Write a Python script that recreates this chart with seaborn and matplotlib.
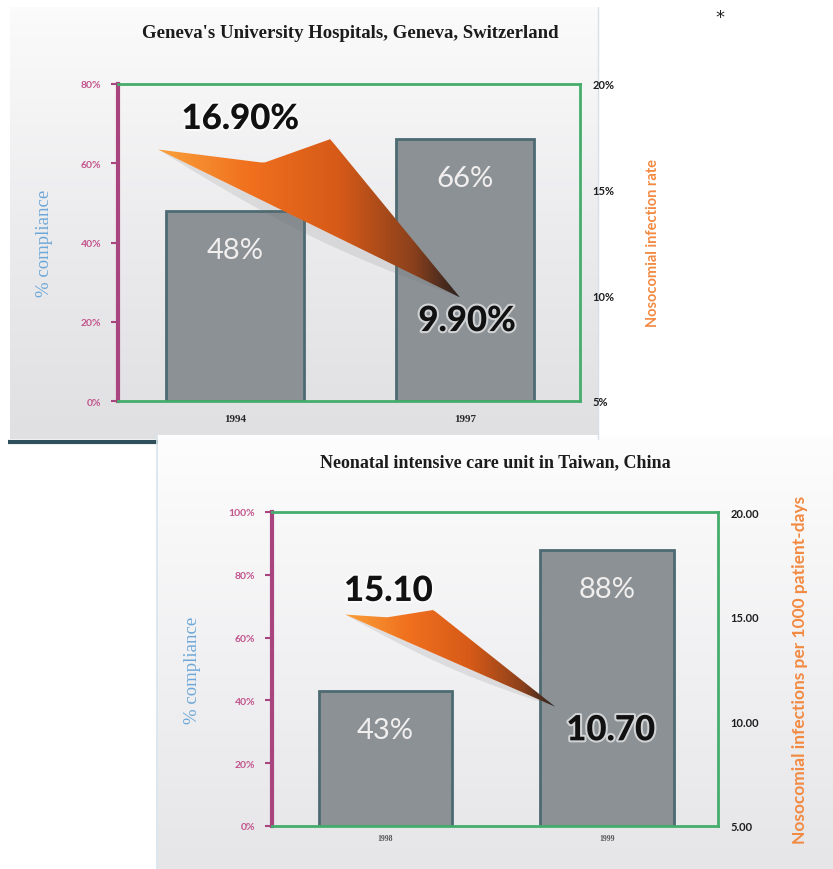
"""Hand hygiene compliance vs. infection rates: two stacked bar panels."""
import numpy as np
import matplotlib.pyplot as plt
import matplotlib.patheffects as pe
from matplotlib.patches import Polygon
from matplotlib.colors import LinearSegmentedColormap
import seaborn as sns

# data
geneva_years = ["1994", "1997"]
geneva_compliance = [48, 66]
geneva_infection = [16.9, 9.9]
geneva_infection_labels = ["16.90%", "9.90%"]

taiwan_years = ["1998", "1999"]
taiwan_compliance = [43, 88]
taiwan_infection = [15.1, 10.7]
taiwan_infection_labels = ["15.10", "10.70"]

geneva_left_ticks = [0, 20, 40, 60, 80]
taiwan_left_ticks = [0, 20, 40, 60, 80, 100]
right_ticks = [5, 10, 15, 20]

sns.set_style("white")
plt.rcParams["font.family"] = ["Lato", "DejaVu Sans"]

W, H = 833, 870
fig = plt.figure(figsize=(W / 100, H / 100), dpi=100)


def px_box(left, top, right, bottom):
    return [left / W, 1 - bottom / H, (right - left) / W, (bottom - top) / H]


# backdrop panels
bg = fig.add_axes([0, 0, 1, 1], zorder=-10)
bg.axis("off")
panel_cmap = LinearSegmentedColormap.from_list("panel", ["#fbfbfb", "#ececee", "#e0e0e2"])
grad = np.linspace(0, 1, 100)[:, None]
bg.imshow(grad, extent=[10, 598, 440, 8], cmap=panel_cmap, aspect="auto", origin="upper")
bg.plot([598, 598], [8, 440], color="#d7dfe8", lw=1)
bg.plot([8, 158], [443, 443], color="#2f4f5a", lw=3, solid_capstyle="butt")
panel2_cmap = LinearSegmentedColormap.from_list("panel2", ["#fdfdfd", "#f1f1f3", "#e6e6e8"])
bg.imshow(grad, extent=[157, 833, 870, 436], cmap=panel2_cmap, aspect="auto", origin="upper")
bg.plot([157, 157], [436, 870], color="#d8e4ee", lw=1.2)
bg.set_xlim(0, W)
bg.set_ylim(H, 0)
bg.text(720, 18, "*", fontsize=13, color="#222222", ha="center", va="center",
        family="DejaVu Sans")

wedge_cmap = LinearSegmentedColormap.from_list(
    "wedge", [(0, "#f9a03a"), (0.3, "#f0701e"), (0.6, "#d65a18"), (0.85, "#8a401c"), (1, "#2b2220")])

BAR_COLOR = "#8b9195"
BAR_EDGE = "#4d6a72"
GREEN = "#45ad6c"
MAGENTA = "#a8457f"
glow = [pe.withStroke(linewidth=3, foreground="white", alpha=0.6)]


def draw_wedge(ax2, x0, x1, v0, v1, up_t, up_drop):
    t = np.linspace(0, 1, 80)
    xs = x0 + (x1 - x0) * t
    drop = v0 - v1
    upper = v0 - drop * np.interp(t, up_t, up_drop)
    lower = v0 - drop * t
    shadow = lower - drop * 0.08 * np.sin(np.pi * t)
    ax2.fill(np.r_[xs, xs[::-1]], np.r_[lower, shadow[::-1]],
             color="#6f6f6f", alpha=0.15, lw=0, zorder=2)
    poly = np.column_stack([np.r_[xs, xs[::-1]], np.r_[upper, lower[::-1]]])
    patch = Polygon(poly, closed=True, fc="none", ec="none")
    ax2.add_patch(patch)
    img = np.tile(np.linspace(0, 1, 200), (20, 1))
    im = ax2.imshow(img, extent=[x0, x1, v1, upper.max()], origin="lower",
                    aspect="auto", cmap=wedge_cmap, zorder=3)
    im.set_clip_path(patch)


def draw_panel(box, years, compliance, infection, inf_labels, left_ticks, right_fmt,
               wedge_x, up_t, up_drop, label_offsets, right_label, right_size,
               right_pad, xtick_size, xtick_color, xtick_pad):
    ax = fig.add_axes(box)
    ax.set_facecolor("none")
    sns.barplot(x=years, y=compliance, ax=ax, color=BAR_COLOR, saturation=1,
                width=0.6, edgecolor=BAR_EDGE, linewidth=2)
    ax.set_ylim(0, left_ticks[-1])
    ax.set_yticks(left_ticks)
    ax.set_yticklabels([f"{v}%" for v in left_ticks])
    for s in ["top", "bottom", "right"]:
        ax.spines[s].set_color(GREEN)
        ax.spines[s].set_linewidth(2)
    ax.spines["left"].set_color(MAGENTA)
    ax.spines["left"].set_linewidth(3)
    ax.tick_params(axis="y", colors=MAGENTA, length=5, width=1.5, labelsize=7.5,
                   labelcolor="#c2548c", pad=7)
    for lab in ax.get_yticklabels():
        lab.set_fontweight("bold")
    ax.tick_params(axis="x", length=0, labelsize=xtick_size, labelcolor=xtick_color,
                   pad=xtick_pad)
    for lab in ax.get_xticklabels():
        lab.set_fontweight("bold")
        lab.set_family("Liberation Serif")
    ax.set_xlabel("")
    ax.set_ylabel("% compliance", family="Liberation Serif", fontsize=13.5,
                  color="#6ea8d8", labelpad=20)
    for i, v in enumerate(compliance):
        ax.annotate(f"{v}%", (i, v), xytext=(0, -28), textcoords="offset points",
                    ha="center", va="center", fontsize=21, color="#f1eeee")

    ax2 = ax.twinx()
    ax2.set_facecolor("none")
    for s in ax2.spines.values():
        s.set_visible(False)
    draw_wedge(ax2, wedge_x[0], wedge_x[1], infection[0], infection[1], up_t, up_drop)
    ax2.set_ylim(right_ticks[0], right_ticks[-1])
    ax2.set_yticks(right_ticks)
    ax2.set_yticklabels([right_fmt.format(v) for v in right_ticks])
    ax2.tick_params(axis="y", length=0, labelsize=8, labelcolor="#1e1e1e", pad=9)
    for lab in ax2.get_yticklabels():
        lab.set_fontweight("bold")
    ax2.set_ylabel(right_label, rotation=90, fontsize=right_size, color="#f28a42",
                   fontweight="bold", labelpad=right_pad)
    for i, (v, txt) in enumerate(zip(infection, inf_labels)):
        ax2.annotate(txt, (wedge_x[i], v), xytext=label_offsets[i], textcoords="offset points",
                     ha="center", va="center", fontsize=25, fontweight="black",
                     color="#111111", path_effects=glow, zorder=5)
    ax.set_xlim(-0.51, 1.5)
    return ax, ax2


draw_panel(px_box(118, 85, 580, 402), geneva_years, geneva_compliance, geneva_infection,
           geneva_infection_labels, geneva_left_ticks, "{}%",
           (-0.335, 0.978), [0, 0.35, 0.57, 1], [0, 0.09, -0.07, 1],
           [(59, 22), (5, -17)], "Nosocomial infection rate", 10.5, 23, 8, "#2a2a2a", 9)

draw_panel(px_box(272, 513, 718, 827), taiwan_years, taiwan_compliance, taiwan_infection,
           taiwan_infection_labels, taiwan_left_ticks, "{:.2f}",
           (-0.18, 0.766), [0, 0.2, 0.42, 1], [0, 0.03, -0.05, 1],
           [(31, 17), (40, -17)], "Nosocomial infections per 1000 patient-days", 12.5, 24,
           5.5, "#555555", 6)

fig.text(350 / W, 1 - 33 / H, "Geneva's University Hospitals, Geneva, Switzerland",
         family="Liberation Serif", fontweight="bold", fontsize=13.5, ha="center",
         va="center", color="#1c1c1c")
fig.text(495 / W, 1 - 463 / H, "Neonatal intensive care unit in Taiwan, China",
         family="Liberation Serif", fontweight="bold", fontsize=13, ha="center",
         va="center", color="#1c1c1c")

fig.savefig("out.png", dpi=100)
